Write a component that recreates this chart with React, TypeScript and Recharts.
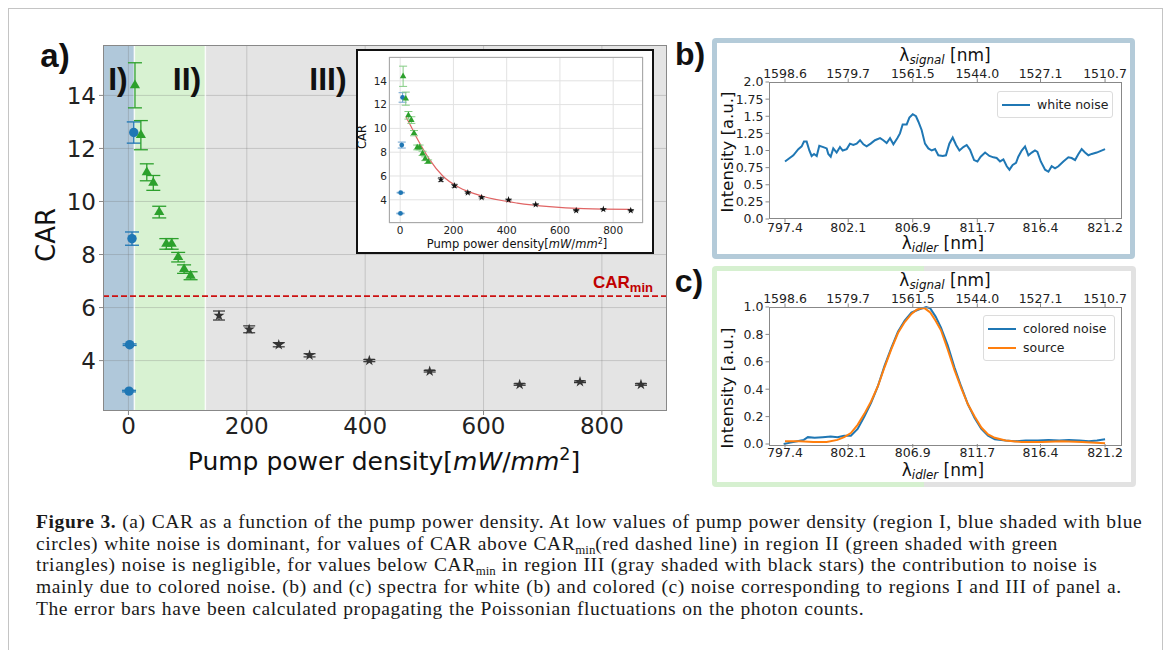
import React from "react";
import {
  ComposedChart,
  Line,
  Scatter,
  XAxis,
  YAxis,
  ReferenceArea,
  ReferenceLine,
  ErrorBar,
  CartesianGrid,
  Symbols,
} from "recharts";

// ---- panel a: CAR vs pump power density ----
const whiteNoisePts = [
  { x: 9, y: 12.6, err: 0.4 },
  { x: 6, y: 8.6, err: 0.25 },
  { x: 2, y: 4.6, err: 0.03 },
  { x: 1, y: 2.85, err: 0.03 },
];
const negligiblePts = [
  { x: 11, y: 14.38, err: 0.85 },
  { x: 21, y: 12.5, err: 0.55 },
  { x: 31, y: 11.1, err: 0.32 },
  { x: 42, y: 10.7, err: 0.28 },
  { x: 52, y: 9.6, err: 0.22 },
  { x: 64, y: 8.4, err: 0.2 },
  { x: 73, y: 8.4, err: 0.2 },
  { x: 84, y: 7.9, err: 0.18 },
  { x: 94, y: 7.45, err: 0.16 },
  { x: 105, y: 7.2, err: 0.15 },
];
const coloredPts = [
  { x: 153, y: 5.7, err: 0.17 },
  { x: 204, y: 5.18, err: 0.13 },
  { x: 254, y: 4.6, err: 0.08 },
  { x: 306, y: 4.2, err: 0.06 },
  { x: 407, y: 4.0, err: 0.04 },
  { x: 509, y: 3.6, err: 0.03 },
  { x: 661, y: 3.1, err: 0.03 },
  { x: 763, y: 3.2, err: 0.03 },
  { x: 866, y: 3.1, err: 0.03 },
];
const fitPower = [22, 40, 60, 80, 110, 160, 220, 310, 440, 560, 690, 866];
const fitCar = [10.95, 10.2, 9.3, 8.5, 7.4, 6.0, 5.05, 4.3, 3.72, 3.42, 3.26, 3.2];
const powerTicks = [0, 200, 400, 600, 800];
const carTicks = [4, 6, 8, 10, 12, 14];
const carMin = 6.43;
const regionEdges = [10, 130];

// ---- panels b, c: spectra ----
const idlerTicks = [797.4, 802.1, 806.9, 811.7, 816.4, 821.2];
const signalLabels = ["1598.6", "1579.7", "1561.5", "1544.0", "1527.1", "1510.7"];
const bTicks = [0, 0.25, 0.5, 0.75, 1.0, 1.25, 1.5, 1.75, 2.0];
const bTickLabels = ["0.0", "0.25", "0.5", "0.75", "1.0", "1.25", "1.5", "1.75", "2.0"];
const cTicks = [0, 0.2, 0.4, 0.6, 0.8, 1.0];
const cTickLabels = ["0.0", "0.2", "0.4", "0.6", "0.8", "1.0"];

const whiteIdler = [
  797.4, 798.02, 798.39, 798.64, 798.81, 799.01, 799.21, 799.38, 799.56, 799.76,
  799.95, 800.25, 800.5, 800.62, 800.8, 800.99, 801.24, 801.49, 801.69, 801.99,
  802.23, 802.48, 802.73, 802.98, 803.23, 803.47, 803.77, 804.09, 804.47, 804.71,
  804.96, 805.21, 805.46, 805.75, 805.95, 806.15, 806.45, 806.65, 806.9, 807.14,
  807.32, 807.56, 807.81, 808.06, 808.31, 808.56, 808.8, 809.13, 809.37, 809.62,
  809.87, 810.12, 810.37, 810.66, 810.91, 811.16, 811.46, 811.71, 811.95, 812.28,
  812.6, 812.9, 813.14, 813.39, 813.64, 813.89, 814.09, 814.33, 814.58, 814.75,
  815.0, 815.25, 815.5, 815.75, 815.99, 816.17, 816.42, 816.74, 816.99, 817.23,
  817.48, 817.73, 818.1, 818.47, 818.72, 818.97, 819.22, 819.46, 819.71, 819.96,
  820.21, 820.58, 821.2,
];
const whiteIntensity = [
  0.84, 0.93, 1.02, 1.06, 1.13, 1.13, 1.0, 0.92, 0.95, 0.92,
  1.07, 1.05, 1.03, 0.95, 0.91, 1.03, 0.97, 1.05, 1.0, 1.02,
  1.1, 1.08, 1.1, 1.15, 1.09, 1.06, 1.1, 1.15, 1.18, 1.15,
  1.11, 1.18, 1.09, 1.18, 1.25, 1.38, 1.38, 1.48, 1.53, 1.5,
  1.42, 1.3, 1.1, 1.03, 1.0, 1.02, 0.93, 0.92, 0.93, 1.1,
  1.19, 1.08, 1.0, 1.05, 1.08, 1.01, 0.86, 0.84, 0.91, 0.97,
  0.92, 0.9, 0.89, 0.84, 0.87, 0.77, 0.72, 0.79, 0.82, 0.91,
  1.0, 1.06, 0.93, 0.97, 1.0, 0.98, 0.84, 0.72, 0.69, 0.77,
  0.74, 0.77, 0.84, 0.9, 0.89, 0.86, 0.95, 1.02, 0.97, 0.93,
  0.95, 0.97, 1.02,
];

const coloredIdler = [
  797.3, 797.8, 798.3, 798.8, 799.1, 799.6, 800.2, 800.8, 801.3, 801.8,
  802.3, 802.8, 803.3, 803.8, 804.3, 804.8, 805.3, 805.8, 806.3, 806.8,
  807.3, 807.6, 807.9, 808.2, 808.6, 809.0, 809.5, 810.0, 810.5, 811.0,
  811.5, 812.0, 812.5, 813.0, 813.8, 814.5, 815.3, 816.2, 817.0, 817.8,
  818.5, 819.3, 820.0, 820.6, 821.2,
];
const coloredIntensity = [
  0.0, 0.01, 0.02, 0.03, 0.05, 0.045, 0.05, 0.055, 0.05, 0.06,
  0.06, 0.11, 0.2, 0.3, 0.42, 0.57, 0.7, 0.82, 0.9, 0.96,
  0.98, 0.99, 1.0, 0.99, 0.93, 0.85, 0.72, 0.56, 0.42, 0.29,
  0.19, 0.11, 0.06, 0.035, 0.025, 0.02, 0.025, 0.025, 0.03, 0.025,
  0.03, 0.025, 0.02, 0.025, 0.035,
];
const sourceIdler = [
  797.4, 798.5, 799.5, 800.5, 801.3, 801.8, 802.3, 802.8, 803.3, 803.8,
  804.3, 804.8, 805.3, 805.8, 806.3, 806.8, 807.2, 807.5, 807.8, 808.2,
  808.6, 809.0, 809.5, 810.0, 810.5, 811.0, 811.5, 812.0, 812.5, 813.0,
  813.8, 815.0, 816.5, 818.0, 819.5, 821.2,
];
const sourceIntensity = [
  0.02, 0.02, 0.015, 0.015, 0.03, 0.05, 0.08, 0.14, 0.22, 0.31,
  0.42, 0.56, 0.69, 0.81, 0.89, 0.95, 0.98, 0.99, 0.99, 0.96,
  0.9, 0.83, 0.69, 0.54, 0.41, 0.29, 0.2, 0.12, 0.07, 0.045,
  0.025, 0.015, 0.015, 0.02, 0.015, 0.005,
];

const BLUE = "#1f77b4";
const ORANGE = "#ff7f0e";
const GREEN = "#2ca02c";
const STAR = "#333333";
const FONT = "DejaVu Sans";

const toPts = (xs: number[], ys: number[]) => xs.map((x, i) => ({ x, y: ys[i] }));
const fitData = toPts(fitPower, fitCar);
const whiteData = toPts(whiteIdler, whiteIntensity);
const coloredData = toPts(coloredIdler, coloredIntensity);
const sourceData = toPts(sourceIdler, sourceIntensity);

const sym = (type: any, size: number, color: string) => (p: any) =>
  <Symbols type={type} cx={p.cx} cy={p.cy} size={size} fill={color} />;

function T({ x, y, size, children, rot, style }: any) {
  return (
    <div
      style={{
        position: "absolute",
        left: x,
        top: y,
        transform: `translate(-50%,-50%)${rot ? " rotate(-90deg)" : ""}`,
        fontSize: size,
        fontFamily: FONT,
        whiteSpace: "nowrap",
        lineHeight: 1,
        color: "#111",
        ...style,
      }}
    >
      {children}
    </div>
  );
}

function Box({ x, y, w, h, color = "#888" }: any) {
  return (
    <div
      style={{
        position: "absolute",
        left: x,
        top: y,
        width: w,
        height: h,
        boxSizing: "border-box",
        border: `1px solid ${color}`,
        pointerEvents: "none",
      }}
    />
  );
}

const gridStroke = "rgba(110,110,110,0.28)";

function PanelA() {
  const tick = { fontSize: 23, fill: "#222", fontFamily: FONT };
  return (
    <div style={{ position: "absolute", left: 0, top: 0 }}>
      <ComposedChart width={680} height={480} margin={{ top: 45, right: 13, bottom: 29, left: 43 }}>
        <XAxis
          type="number"
          dataKey="x"
          domain={[-43, 910]}
          ticks={powerTicks}
          allowDataOverflow
          interval={0}
          height={40}
          tick={tick}
          tickSize={4}
          tickMargin={3}
          axisLine={false}
          tickLine={{ stroke: "#888" }}
        />
        <YAxis
          type="number"
          dataKey="y"
          domain={[2.1, 15.9]}
          ticks={carTicks}
          allowDataOverflow
          interval={0}
          width={60}
          tick={tick}
          tickSize={4}
          tickMargin={3}
          axisLine={false}
          tickLine={{ stroke: "#888" }}
        />
        <ReferenceArea x1={-43} x2={regionEdges[0]} fill="#b0c8da" fillOpacity={1} stroke="none" />
        <ReferenceArea x1={regionEdges[0]} x2={regionEdges[1]} fill="#d8f2d2" fillOpacity={1} stroke="none" />
        <ReferenceArea x1={regionEdges[1]} x2={910} fill="#e4e4e4" fillOpacity={1} stroke="none" />
        {powerTicks.map((t) => (
          <ReferenceLine key={"gx" + t} x={t} stroke={gridStroke} strokeWidth={1} />
        ))}
        {carTicks.map((t) => (
          <ReferenceLine key={"gy" + t} y={t} stroke={gridStroke} strokeWidth={1} />
        ))}
        {regionEdges.map((t) => (
          <ReferenceLine key={"e" + t} x={t} stroke="#ffffff" strokeOpacity={0.8} strokeWidth={1.5} />
        ))}
        <ReferenceLine y={carMin} stroke="#cc1111" strokeDasharray="6 3" strokeWidth={1.7} />
        <Scatter data={whiteNoisePts} shape={sym("circle", 70, BLUE)} isAnimationActive={false}>
          <ErrorBar dataKey="err" direction="y" width={7} stroke={BLUE} strokeWidth={1.3} />
        </Scatter>
        <Scatter data={negligiblePts} shape={sym("triangle", 45, GREEN)} isAnimationActive={false}>
          <ErrorBar dataKey="err" direction="y" width={7} stroke={GREEN} strokeWidth={1.3} />
        </Scatter>
        <Scatter data={coloredPts} shape={sym("star", 38, STAR)} isAnimationActive={false}>
          <ErrorBar dataKey="err" direction="y" width={6} stroke={STAR} strokeWidth={1.2} />
        </Scatter>
      </ComposedChart>
      <Box x={103} y={45} w={564} h={366} />
    </div>
  );
}

function Inset() {
  const tick = { fontSize: 10.5, fill: "#222", fontFamily: FONT };
  return (
    <div
      style={{
        position: "absolute",
        left: 356,
        top: 49,
        width: 298,
        height: 205,
        boxSizing: "border-box",
        border: "2px solid #111",
        background: "#fff",
      }}
    >
      <div style={{ position: "absolute", left: 0, top: 0 }}>
        <ComposedChart width={294} height={201} margin={{ top: 6, right: 9, bottom: 13, left: 6 }}>
          <CartesianGrid stroke="#e2e2e2" strokeWidth={1} />
          <XAxis
            type="number"
            dataKey="x"
            domain={[-42, 912]}
            ticks={powerTicks}
            allowDataOverflow
            interval={0}
            height={16}
            tick={tick}
            tickSize={0}
            tickMargin={4}
            axisLine={false}
            tickLine={false}
          />
          <YAxis
            type="number"
            dataKey="y"
            domain={[2.05, 16]}
            ticks={carTicks}
            allowDataOverflow
            interval={0}
            width={25}
            tick={tick}
            tickSize={0}
            tickMargin={2}
            axisLine={false}
            tickLine={false}
          />
          <Line data={fitData} dataKey="y" type="monotone" stroke="#e06464" strokeWidth={1.2} dot={false} isAnimationActive={false} />
          <Scatter data={whiteNoisePts} shape={sym("circle", 18, BLUE)} isAnimationActive={false}>
            <ErrorBar dataKey="err" direction="y" width={4} stroke="#6fa3cf" strokeWidth={1} />
          </Scatter>
          <Scatter data={negligiblePts} shape={sym("triangle", 18, GREEN)} isAnimationActive={false}>
            <ErrorBar dataKey="err" direction="y" width={4} stroke="#84cc84" strokeWidth={1} />
          </Scatter>
          <Scatter data={coloredPts} shape={sym("star", 16, "#111")} isAnimationActive={false}>
            <ErrorBar dataKey="err" direction="y" width={3} stroke="#777" strokeWidth={1} />
          </Scatter>
        </ComposedChart>
      </div>
      <Box x={31} y={6} w={254} h={166} color="#aaa" />
    </div>
  );
}

function Spectrum({ top, yTicks, yLabels, series }: any) {
  const tick = { fontSize: 12.5, fill: "#222", fontFamily: FONT };
  const common = {
    type: "number" as const,
    dataKey: "x",
    domain: [796.21, 822.46],
    ticks: idlerTicks,
    allowDataOverflow: true,
    interval: 0 as const,
    height: 20,
    tick,
    tickSize: 3.5,
    axisLine: false,
    tickLine: { stroke: "#888" },
  };
  return (
    <div style={{ position: "absolute", left: 700, top }}>
      <ComposedChart width={440} height={190} margin={{ top: 4, right: 18, bottom: 9, left: 19 }}>
        <XAxis {...common} xAxisId="b" tickMargin={1} tickFormatter={(v: number) => v.toFixed(1)} />
        <XAxis
          {...common}
          xAxisId="t"
          orientation="top"
          tickMargin={1}
          tickFormatter={(v: number) => signalLabels[idlerTicks.indexOf(v)]}
        />
        <YAxis
          type="number"
          domain={[yTicks[0], yTicks[yTicks.length - 1]]}
          ticks={yTicks}
          interval={0}
          width={50}
          tick={tick}
          tickSize={3.5}
          tickMargin={2}
          axisLine={false}
          tickLine={{ stroke: "#888" }}
          tickFormatter={(v: number) => yLabels[yTicks.indexOf(v)]}
        />
        {series.map((s: any) => (
          <Line
            key={s.name}
            xAxisId="b"
            data={s.data}
            dataKey="y"
            type="linear"
            stroke={s.color}
            strokeWidth={2}
            dot={false}
            isAnimationActive={false}
          />
        ))}
      </ComposedChart>
    </div>
  );
}

function LegendBox({ x, y, w, entries }: any) {
  return (
    <div
      style={{
        position: "absolute",
        left: x,
        top: y,
        width: w,
        boxSizing: "border-box",
        background: "rgba(255,255,255,0.85)",
        border: "1px solid #dcdcdc",
        borderRadius: 3,
        padding: "3px 0 3px 4px",
        fontFamily: FONT,
        fontSize: 12.5,
        color: "#222",
      }}
    >
      {entries.map((e: any) => (
        <div key={e.name} style={{ display: "flex", alignItems: "center", height: 19 }}>
          <span style={{ width: 28, height: 2, background: e.color, display: "inline-block", marginRight: 7 }} />
          <span>{e.name}</span>
        </div>
      ))}
    </div>
  );
}

function Framed({ x, y, w, h, bg }: any) {
  return (
    <div style={{ position: "absolute", left: x, top: y, width: w, height: h, background: bg, borderRadius: 4 }}>
      <div style={{ position: "absolute", left: 5, top: 5, right: 5, bottom: 5, background: "#fff" }} />
    </div>
  );
}

const lam = (sub: string) => (
  <span>
    λ<sub style={{ fontSize: "0.7em", fontStyle: "italic", verticalAlign: "-0.25em" }}>{sub}</sub> [nm]
  </span>
);

const subMin = (
  <span style={{ fontSize: "0.66em", letterSpacing: 0, position: "relative", top: "0.3em", lineHeight: 0 }}>min</span>
);

export default function App() {
  const bold = { fontFamily: "Liberation Sans", fontWeight: 700 };
  return (
    <div
      style={{
        position: "absolute",
        left: 0,
        top: 0,
        width: 1166,
        height: 650,
        background: "#fff",
        overflow: "hidden",
      }}
    >
      <div
        style={{
          position: "absolute",
          left: 8,
          top: 8,
          width: 1155,
          height: 700,
          boxSizing: "border-box",
          border: "1.5px solid #c4c4c4",
        }}
      />

      <PanelA />
      <T x={46} y={235} size={26} rot>CAR</T>
      <T x={384} y={460} size={25}>
        Pump power density[<i>mW</i>/<i>mm</i>
        <sup style={{ fontSize: "0.7em", verticalAlign: "0.55em" }}>2</sup>]
      </T>
      <T x={55} y={55} size={33} style={bold}>a)</T>
      <T x={118} y={79} size={32} style={bold}>I)</T>
      <T x={187} y={79} size={32} style={bold}>II)</T>
      <T x={328} y={79} size={32} style={bold}>III)</T>
      <div
        style={{
          position: "absolute",
          left: 593,
          top: 274,
          fontFamily: "Liberation Sans",
          fontWeight: 700,
          fontSize: 17,
          lineHeight: 1,
          color: "#c00000",
          whiteSpace: "nowrap",
        }}
      >
        CAR<sub style={{ fontSize: 13, verticalAlign: "-0.3em" }}>min</sub>
      </div>

      <Inset />
      <T x={363} y={137} size={11.5} rot>CAR</T>
      <T x={517} y={244} size={11.5}>
        Pump power density[<i>mW</i>/<i>mm</i>
        <sup style={{ fontSize: "0.7em", verticalAlign: "0.55em" }}>2</sup>]
      </T>

      {/* panel b */}
      <Framed x={712} y={38} w={423} h={221} bg="#b4cbd9" />
      <Spectrum top={58} yTicks={bTicks} yLabels={bTickLabels} series={[{ name: "white noise", data: whiteData, color: BLUE }]} />
      <Box x={769} y={82} w={353} h={137} />
      <LegendBox x={997} y={91} w={116} entries={[{ name: "white noise", color: BLUE }]} />
      <T x={690} y={54} size={32} style={bold}>b)</T>
      <T x={945} y={57} size={17}>{lam("signal")}</T>
      <T x={943} y={245} size={17}>{lam("idler")}</T>
      <T x={728} y={152} size={16.5} rot>Intensity [a.u.]</T>

      {/* panel c */}
      <Framed x={712} y={266} w={424} h={221} bg="linear-gradient(to right, #d6f0d0 50%, #e2e2e2 50%)" />
      <Spectrum
        top={283}
        yTicks={cTicks}
        yLabels={cTickLabels}
        series={[
          { name: "colored noise", data: coloredData, color: BLUE },
          { name: "source", data: sourceData, color: ORANGE },
        ]}
      />
      <Box x={769} y={307} w={353} h={139} />
      <LegendBox
        x={983}
        y={315}
        w={132}
        entries={[
          { name: "colored noise", color: BLUE },
          { name: "source", color: ORANGE },
        ]}
      />
      <T x={689} y={281} size={32} style={bold}>c)</T>
      <T x={945} y={282} size={17}>{lam("signal")}</T>
      <T x={943} y={472} size={17}>{lam("idler")}</T>
      <T x={728} y={388} size={16.5} rot>Intensity [a.u.]</T>

      {/* caption */}
      <div
        style={{
          position: "absolute",
          left: 36,
          top: 511,
          fontFamily: "Liberation Serif",
          fontSize: 19.5,
          letterSpacing: 0.6,
          wordSpacing: 0.5,
          lineHeight: "21.7px",
          color: "#1a1a1a",
          whiteSpace: "nowrap",
        }}
      >
        <div>
          <b>Figure 3.</b> (a) CAR as a function of the pump power density. At low values of pump power density (region I, blue shaded with blue
        </div>
        <div>
          circles) white noise is dominant, for values of CAR above CAR{subMin}(red dashed line) in region II (green shaded with green
        </div>
        <div>
          triangles) noise is negligible, for values below CAR{subMin} in region III (gray shaded with black stars) the contribution to noise is
        </div>
        <div>
          mainly due to colored noise. (b) and (c) spectra for white (b) and colored (c) noise corresponding to regions I and III of panel a.
        </div>
        <div>The error bars have been calculated propagating the Poissonian fluctuations on the photon counts.</div>
      </div>
    </div>
  );
}
